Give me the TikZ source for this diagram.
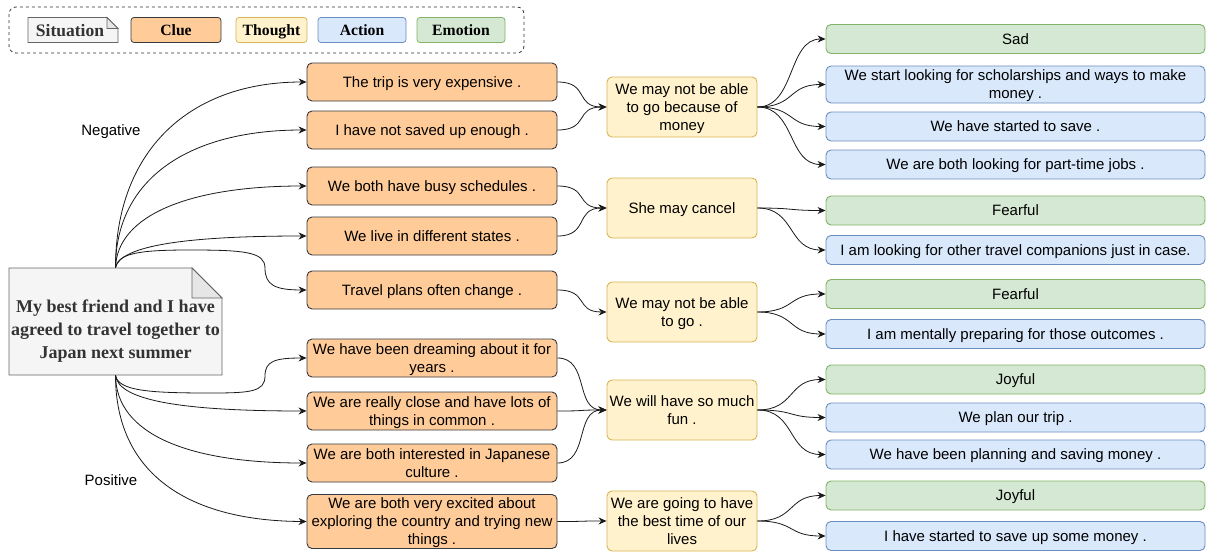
\documentclass[tikz,border=0pt]{standalone}
\usepackage{fontspec}
\setmainfont{Liberation Sans}
\newfontfamily\serifb{Liberation Serif}
\usetikzlibrary{arrows.meta,calc}
\definecolor{clueF}{HTML}{FFCC99}\definecolor{clueD}{HTML}{36393D}
\definecolor{thF}{HTML}{FFF2CC}\definecolor{thD}{HTML}{D6B656}
\definecolor{acF}{HTML}{DAE8FC}\definecolor{acD}{HTML}{6C8EBF}
\definecolor{emF}{HTML}{D5E8D4}\definecolor{emD}{HTML}{82B366}
\definecolor{siF}{HTML}{F5F5F5}\definecolor{siD}{HTML}{666666}\definecolor{siT}{HTML}{333333}
\definecolor{foldc}{HTML}{E6E6E6}
\definecolor{edge}{HTML}{1A1A1A}
\begin{document}
\begin{tikzpicture}[x=1pt,y=-1pt,
 base/.style={rounded corners=5pt, line width=0.9pt, inner sep=0pt, align=center, text depth=0pt, font=\fontsize{15}{18}\selectfont},
 clue/.style={base, draw=clueD, fill=clueF, minimum width=250pt, minimum height=38pt},
 thought/.style={base, draw=thD, fill=thF, minimum width=150pt, minimum height=60pt},
 act/.style={base, draw=acD, fill=acF, minimum width=379pt, minimum height=29pt},
 emo/.style={base, draw=emD, fill=emF, minimum width=379pt, minimum height=29pt},
 arr/.style={-{Stealth[length=8pt,width=7pt]}, line width=0.8pt, draw=edge},
 lg/.style={rounded corners=3pt, line width=0.8pt, inner sep=0pt, text depth=0pt, font=\serifb\bfseries\fontsize{15.7}{18}\selectfont, minimum height=25pt},
 lbl/.style={inner sep=0pt, font=\fontsize{15}{18}\selectfont},
]
\useasboundingbox (0,0) rectangle (1208,554);
\fill[white] (0,0) rectangle (1208,554);

% ---------- legend ----------
\draw[dash pattern=on 3pt off 3pt, rounded corners=7pt, line width=0.8pt, draw=black!80] (9,7) rectangle (524,53);
\filldraw[fill=siF, draw=siD, line width=0.8pt] (28,17.5) -- (107,17.5) -- (118,28.5) -- (118,42.5) -- (28,42.5) -- cycle;
\filldraw[fill=foldc, draw=siD, line width=0.8pt] (107,17.5) -- (107,28.5) -- (118,28.5) -- cycle;
\node[lg, text=siT, font=\serifb\bfseries\fontsize{17.5}{20}\selectfont] (lgs) at (70,30.5) {Situation};
\node[lg, draw=clueD, fill=clueF, minimum width=90pt] (lgc) at (176,30) {Clue};
\node[lg, draw=thD, fill=thF, minimum width=71pt] (lgt) at (271.5,30) {Thought};
\node[lg, draw=acD, fill=acF, minimum width=88pt] (lga) at (362,30) {Action};
\node[lg, draw=emD, fill=emF, minimum width=88pt] (lge) at (461,30) {Emotion};

% ---------- situation ----------
\filldraw[fill=siF, draw=siD, line width=0.9pt] (9,268) -- (192,268) -- (222,298) -- (222,375) -- (9,375) -- cycle;
\filldraw[fill=foldc, draw=siD, line width=0.9pt] (192,268) -- (192,298) -- (222,298) -- cycle;
\node[inner sep=0pt, minimum width=213pt, minimum height=107pt] (sit) at (115.5,321.5) {};
\node[inner sep=0pt, align=center, text=siT,
      font=\serifb\bfseries\fontsize{18}{23}\selectfont] (sittext) at (115.5,331)
      {My best friend and I have\\agreed to travel together to\\Japan next summer};

\node[lbl] (neg) at (111,132) {Negative};
\node[lbl] (pos) at (111,480) {Positive};

% ---------- clues ----------
\node[clue] (c1) at (432,82) {The trip is very expensive .};
\node[clue] (c2) at (432,130) {I have not saved up enough .};
\node[clue] (c3) at (432,186) {We both have busy schedules .};
\node[clue] (c4) at (432,236) {We live in different states .};
\node[clue] (c5) at (432,290) {Travel plans often change .};
\node[clue] (c6) at (432,358) {We have been dreaming about it for\\years .};
\node[clue] (c7) at (432,411) {We are really close and have lots of\\things in common .};
\node[clue] (c8) at (432,463) {We are both interested in Japanese\\culture .};
\node[clue, minimum height=54pt] (c9) at (432,521.5) {We are both very excited about\\exploring the country and trying new\\things .};

% ---------- thoughts ----------
\node[thought] (t1) at (682,107) {We may not be able\\to go because of\\money};
\node[thought] (t2) at (682,208) {She may cancel};
\node[thought] (t3) at (682,312) {We may not be able\\to go .};
\node[thought] (t4) at (682,410) {We will have so much\\fun .};
\node[thought] (t5) at (682,521) {We are going to have\\the best time of our\\lives};

% ---------- outcomes ----------
\node[emo] (r1) at (1015.5,39) {Sad};
\node[act, minimum height=37pt] (r2) at (1015.5,84.5) {We start looking for scholarships and ways to make\\money .};
\node[act] (r3) at (1015.5,126.5) {We have started to save .};
\node[act] (r4) at (1015.5,164.5) {We are both looking for part-time jobs .};
\node[emo] (r5) at (1015.5,210.5) {Fearful};
\node[act] (r6) at (1015.5,250) {I am looking for other travel companions just in case.};
\node[emo] (r7) at (1015.5,294) {Fearful};
\node[act] (r8) at (1015.5,334) {I am mentally preparing for those outcomes .};
\node[emo] (r9) at (1015.5,379.5) {Joyful};
\node[act] (r10) at (1015.5,417.5) {We plan our trip .};
\node[act] (r11) at (1015.5,454.5) {We have been planning and saving money .};
\node[emo] (r12) at (1015.5,495.5) {Joyful};
\node[act] (r13) at (1015.5,536) {I have started to save up some money .};

% ---------- situation -> clues ----------
\draw[arr] (sit.north) .. controls (115.5,150) and (190,82) .. (c1.west);
\draw[arr] (sit.north) .. controls (115.5,178) and (190,130) .. (c2.west);
\draw[arr] (sit.north) .. controls (117,215) and (190,186) .. (c3.west);
\draw[arr] (sit.north) .. controls (120,245) and (190,236) .. (c4.west);
\draw[arr] (sit.north) .. controls (118,253) and (140,250) .. (190,250)
   .. controls (245,250) and (265,252) .. (265,268)
   .. controls (265,285) and (275,290) .. (c5.west);
\draw[arr] (sit.south) .. controls (118,391) and (150,393) .. (210,393)
   .. controls (250,393) and (265,392) .. (265,376)
   .. controls (265,361) and (275,358) .. (c6.west);
\draw[arr] (sit.south) .. controls (118,402) and (190,411) .. (c7.west);
\draw[arr] (sit.south) .. controls (116,435) and (190,463) .. (c8.west);
\draw[arr] (sit.south) .. controls (115.5,475) and (190,521) .. (c9.west);

% ---------- clues -> thoughts ----------
\foreach \a/\b in {c1/t1,c2/t1,c3/t2,c4/t2,c5/t3,c6/t4,c7/t4,c8/t4,c9/t5}
  \draw[arr] (\a.east) .. controls +(32,0) and +(-32,0) .. (\b.west);

% ---------- thoughts -> outcomes ----------
\foreach \a/\b in {t1/r1,t1/r2,t1/r3,t1/r4,t2/r5,t2/r6,t3/r7,t3/r8,t4/r9,t4/r10,t4/r11,t5/r12,t5/r13}
  \draw[arr] (\a.east) .. controls +(38,0) and +(-38,0) .. (\b.west);
\end{tikzpicture}
\end{document}
